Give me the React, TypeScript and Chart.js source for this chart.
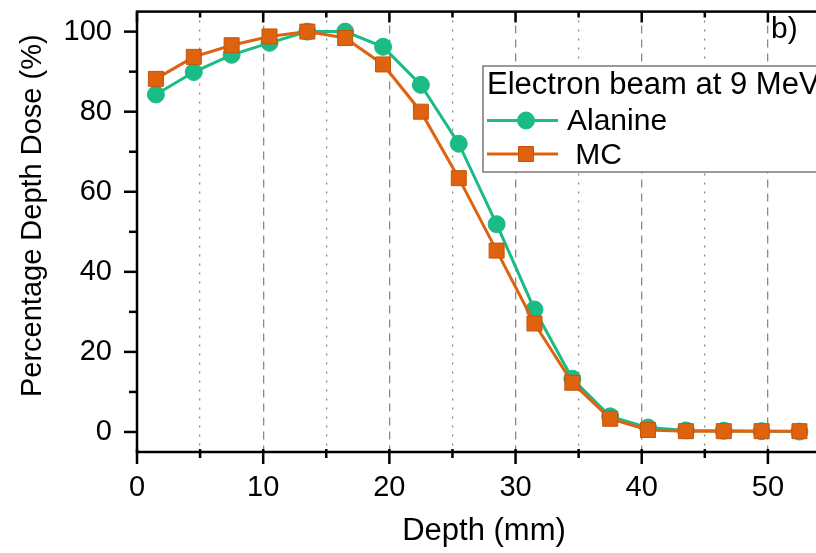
import React, { useEffect, useRef } from 'react';
import { Chart, registerables } from 'chart.js';

Chart.register(...registerables);

// ---- data ----
const depth = [1.5, 4.5, 7.5, 10.5, 13.5, 16.5, 19.5, 22.5, 25.5, 28.5, 31.5, 34.5, 37.5, 40.5, 43.5, 46.5, 49.5, 52.5];
const alanine = [84.3, 89.9, 94.2, 97.2, 100, 100, 96.2, 86.7, 72.0, 51.9, 30.6, 13.3, 3.9, 1.1, 0.4, 0.3, 0.2, 0.1];
const mc = [88.2, 93.7, 96.6, 98.8, 100, 98.4, 91.8, 80.0, 63.4, 45.3, 27.1, 12.3, 3.3, 0.5, 0.2, 0.2, 0.2, 0.2];

const xTicks = [0, 5, 10, 15, 20, 25, 30, 35, 40, 45, 50, 55];
const xLabelTicks = [0, 10, 20, 30, 40, 50];
const yTicks = [0, 10, 20, 30, 40, 50, 60, 70, 80, 90, 100];
const yLabelTicks = [0, 20, 40, 60, 80, 100];

const seriesNames = ['Alanine', ' MC'];
const legendTitle = 'Electron beam at 9 MeV';
const panelLabel = 'b)';
const xTitle = 'Depth (mm)';
const yTitle = 'Percentage Depth Dose (%)';

const FONT = "'Liberation Sans', Arial, Helvetica, sans-serif";
const GREEN = '#1bbb86';
const ORANGE = '#df620f';

const framePlugin = {
  id: 'frame',
  afterDraw(chart: any) {
    const { ctx, chartArea: a, scales } = chart;
    const x = scales.x;
    const y = scales.y;
    ctx.save();
    ctx.strokeStyle = '#000';
    ctx.lineWidth = 2.5;
    ctx.strokeRect(a.left, a.top, a.right - a.left, a.bottom - a.top);
    // x ticks (bottom and top)
    x.ticks.forEach((t: any) => {
      const px = x.getPixelForValue(t.value);
      const major = xLabelTicks.includes(t.value);
      ctx.beginPath();
      ctx.moveTo(px, a.bottom - 3);
      ctx.lineTo(px, a.bottom + (major ? 12 : 6));
      ctx.moveTo(px, a.top);
      ctx.lineTo(px, a.top + (major ? 11 : 6));
      ctx.stroke();
    });
    // y ticks (left)
    y.ticks.forEach((t: any) => {
      const py = y.getPixelForValue(t.value);
      const major = yLabelTicks.includes(t.value);
      ctx.beginPath();
      ctx.moveTo(a.left - (major ? 13 : 8), py);
      ctx.lineTo(a.left, py);
      ctx.stroke();
    });

    // panel label
    ctx.fillStyle = '#000';
    ctx.font = `30px ${FONT}`;
    ctx.textBaseline = 'alphabetic';
    ctx.textAlign = 'left';
    ctx.fillText(panelLabel, 771, 38);

    // legend box
    const bx = 483, by = 66, bw = 400, bh = 106;
    ctx.fillStyle = '#fff';
    ctx.fillRect(bx, by, bw, bh);
    ctx.strokeStyle = '#7a7a7a';
    ctx.lineWidth = 1.5;
    ctx.strokeRect(bx, by, bw, bh);
    ctx.fillStyle = '#000';
    ctx.font = `31px ${FONT}`;
    ctx.fillText(legendTitle, 487, 93.5);

    const rows = [
      { ly: 120.5, ty: 129.5 },
      { ly: 154, ty: 163.5 },
    ];
    chart.data.datasets.forEach((ds: any, i: number) => {
      const r = rows[i];
      ctx.strokeStyle = ds.borderColor;
      ctx.lineWidth = ds.borderWidth;
      ctx.beginPath();
      ctx.moveTo(487, r.ly);
      ctx.lineTo(558, r.ly);
      ctx.stroke();
      ctx.fillStyle = ds.pointBackgroundColor;
      ctx.strokeStyle = ds.pointBorderColor;
      ctx.lineWidth = ds.pointBorderWidth;
      if (ds.pointStyle === 'rect') {
        const h = ds.pointRadius * Math.SQRT1_2;
        ctx.beginPath();
        ctx.rect(526 - h, r.ly - h, 2 * h, 2 * h);
        ctx.fill();
        ctx.stroke();
      } else {
        ctx.beginPath();
        ctx.arc(526, r.ly, ds.pointRadius, 0, Math.PI * 2);
        ctx.fill();
        ctx.stroke();
      }
      ctx.fillStyle = '#000';
      ctx.font = `30px ${FONT}`;
      ctx.fillText(ds.label, 567, r.ty);
    });
    ctx.restore();
  },
};

export default function App() {
  const ref = useRef<HTMLCanvasElement>(null);

  useEffect(() => {
    const chart = new Chart(ref.current as HTMLCanvasElement, {
      type: 'line',
      data: {
        datasets: [
          {
            label: seriesNames[0],
            data: depth.map((d, i) => ({ x: d, y: alanine[i] })),
            borderColor: GREEN,
            backgroundColor: GREEN,
            borderWidth: 3,
            pointStyle: 'circle',
            pointRadius: 8.5,
            pointBackgroundColor: GREEN,
            pointBorderColor: GREEN,
            pointBorderWidth: 1,
            tension: 0,
            order: 2,
          },
          {
            label: seriesNames[1],
            data: depth.map((d, i) => ({ x: d, y: mc[i] })),
            borderColor: ORANGE,
            backgroundColor: ORANGE,
            borderWidth: 3,
            pointStyle: 'rect',
            pointRadius: 10.6,
            pointBackgroundColor: ORANGE,
            pointBorderColor: '#c4550c',
            pointBorderWidth: 1,
            tension: 0,
            order: 1,
          },
        ],
      },
      options: {
        animation: false,
        responsive: false,
        devicePixelRatio: 1,
        layout: { padding: { top: 7, right: 49, left: 0, bottom: 0 } },
        plugins: { legend: { display: false }, tooltip: { enabled: false } },
        scales: {
          x: {
            type: 'linear',
            position: 'bottom',
            min: 0,
            max: 55,
            afterBuildTicks: (s: any) => {
              s.ticks = xTicks.map((v) => ({ value: v }));
            },
            afterFit: (s: any) => {
              s.height = 101;
              s.paddingLeft = 0;
              s.paddingRight = 0;
            },
            ticks: {
              autoSkip: false,
              maxRotation: 0,
              padding: 19,
              color: '#000',
              font: { family: FONT, size: 29 },
              callback: (v: any) => (xLabelTicks.includes(Number(v)) ? String(v) : ''),
            },
            grid: {
              drawTicks: false,
              lineWidth: 1.3,
              color: (ctx: any) =>
                ctx.tick && (ctx.tick.value === 0 || ctx.tick.value === 55) ? 'rgba(0,0,0,0)' : '#8a8a8a',
            },
            border: {
              display: false,
              dash: (ctx: any) => (ctx.tick && ctx.tick.value % 10 === 0 ? [8, 6] : [2, 7]),
            },
            title: {
              display: true,
              text: xTitle,
              color: '#000',
              font: { family: FONT, size: 31 },
              padding: { top: 0, bottom: 3 },
            },
          },
          y: {
            type: 'linear',
            position: 'left',
            min: -5,
            max: 105,
            afterBuildTicks: (s: any) => {
              s.ticks = yTicks.map((v) => ({ value: v }));
            },
            afterFit: (s: any) => {
              s.width = 137;
              s.paddingTop = 0;
              s.paddingBottom = 0;
            },
            ticks: {
              autoSkip: false,
              padding: 25,
              color: '#000',
              font: { family: FONT, size: 29 },
              callback: (v: any) => (yLabelTicks.includes(Number(v)) ? String(v) : ''),
            },
            grid: { display: false, drawTicks: false },
            border: { display: false },
            title: {
              display: true,
              text: '    ' + yTitle,
              color: '#000',
              font: { family: FONT, size: 29 },
              padding: { top: 16, bottom: 0 },
            },
          },
        },
      },
      plugins: [framePlugin],
    } as any);
    return () => chart.destroy();
  }, []);

  return (
    <div
      style={{
        position: 'fixed',
        left: 0,
        top: 0,
        width: 816,
        height: 553,
        overflow: 'hidden',
        background: '#fff',
      }}
    >
      <canvas ref={ref} width={880} height={553} style={{ display: 'block' }} />
    </div>
  );
}
